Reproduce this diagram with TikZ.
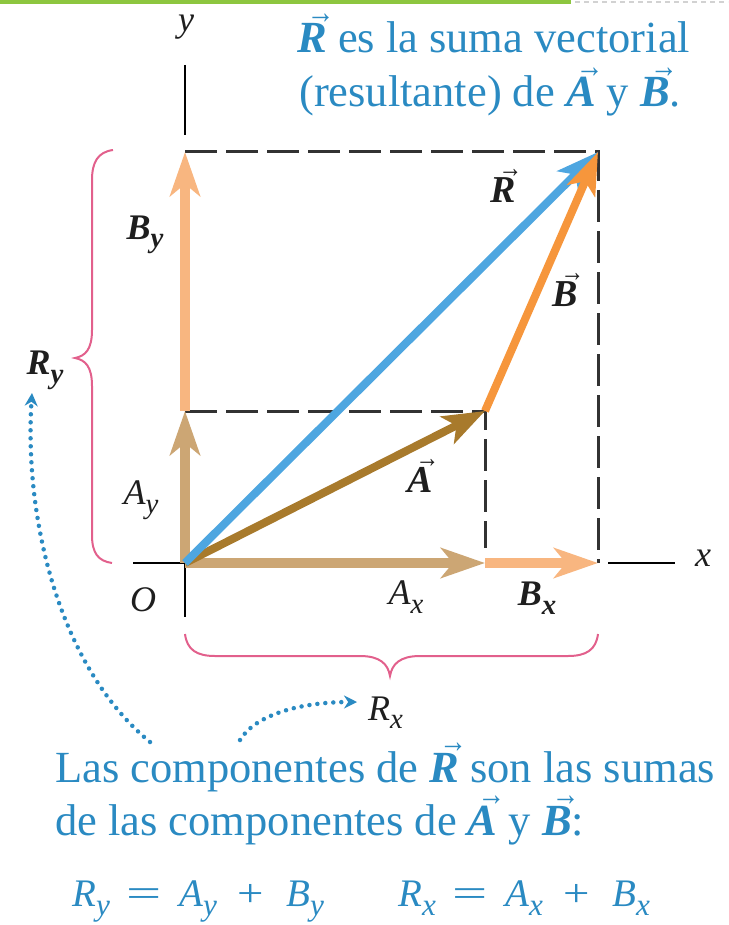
\documentclass[tikz,border=0pt]{standalone}
\usepackage{fontspec}
\setmainfont{Liberation Serif}
\usetikzlibrary{arrows.meta}
\definecolor{txtblue}{RGB}{42,138,194}
\definecolor{rblue}{RGB}{78,166,224}
\definecolor{abrown}{RGB}{168,122,44}
\definecolor{atan}{RGB}{204,166,116}
\definecolor{borange}{RGB}{246,150,60}
\definecolor{blight}{RGB}{248,182,128}
\definecolor{bracepink}{RGB}{226,96,140}
\definecolor{greenbar}{RGB}{141,198,63}
\definecolor{dashgray}{RGB}{50,50,50}
\definecolor{labdark}{RGB}{30,30,30}
\newsavebox\vlbox
\newlength\vlraise
\newcommand\sbs[1]{\raisebox{-0.24em}{\scalebox{0.8}{\itshape #1}}}
\newcommand\vl[1]{{\sbox\vlbox{\bfseries\itshape #1}\setlength\vlraise{\ht\vlbox}\addtolength\vlraise{0.0em}\rlap{\hbox to\wd\vlbox{\hfil\kern0.22em\raisebox{\vlraise}[0pt][0pt]{\scalebox{0.62}[0.75]{\normalfont →}}\hfil}}\usebox\vlbox}}
\begin{document}
\begin{tikzpicture}[x=1pt,y=-1pt,
  txt/.style={inner sep=0pt,anchor=base west,text=txtblue,font=\fontsize{44.5}{52}\selectfont},
  eqn/.style={inner sep=0pt,anchor=base west,text=txtblue,font=\fontsize{39}{39}\selectfont},
  lab/.style={inner sep=0pt,text=labdark,font=\fontsize{36}{36}\selectfont\itshape},
  vlab/.style={inner sep=0pt,text=labdark,font=\fontsize{38}{38}\selectfont},
  axis/.style={draw=black,line width=2.5pt},
  guide/.style={draw=dashgray,line width=3pt,dash pattern=on 32pt off 9pt},
  comp/.style={line width=10pt,-{Stealth[length=44pt,width=30pt,inset=12pt]}},
  vecarrow/.style={line width=8pt,-{Stealth[length=42pt,width=30pt,inset=10pt]}},
  brace/.style={draw=bracepink,line width=2pt},
  dots/.style={draw=txtblue,line width=4.5pt,dash pattern=on 0pt off 8pt,line cap=round,-{Stealth[length=13pt,width=13pt]}},
]
\useasboundingbox (0,0) rectangle (728,925);
% top bar
\fill[greenbar] (0,0) rectangle (571,4);
\draw[gray!35,line width=1.5pt,dash pattern=on 5pt off 4pt] (575,2) -- (728,2);
% coordinates
\coordinate (O) at (185,563);
\coordinate (Atip) at (485,411);
\coordinate (Rtip) at (598,152);
\coordinate (AyTip) at (185,411);
\coordinate (ByTip) at (185,152);
\coordinate (AxTip) at (485,563);
\coordinate (BxTip) at (598,563);
\coordinate (yTop) at (185,65);
\coordinate (yUp) at (185,135);
\coordinate (yDown) at (185,617);
\coordinate (xLeft) at (133,563);
\coordinate (xR1) at (608,563);
\coordinate (xR2) at (675,563);
\coordinate (AxDash) at (485,548);
% axes
\draw[axis] (yTop) -- (yUp);
\draw[axis] (O) -- (yDown);
\draw[axis] (xLeft) -- (O);
\draw[axis] (xR1) -- (xR2);
% guides
\draw[guide] (ByTip) -- (Rtip) -- (BxTip);
\draw[guide] (AyTip) -- (Atip) -- (AxDash);
% component arrows
\draw[comp,draw=atan,color=atan] (O) -- (AyTip);
\draw[comp,draw=blight,color=blight] (AyTip) -- (ByTip);
\draw[comp,draw=atan,color=atan] (O) -- (AxTip);
\draw[comp,draw=blight,color=blight] (AxTip) -- (BxTip);
% vectors
\draw[vecarrow,draw=abrown,color=abrown] (O) -- (Atip);
\draw[vecarrow,draw=rblue,color=rblue] (O) -- (Rtip);
\draw[vecarrow,draw=borange,color=borange] (Atip) -- (Rtip);
% braces
\draw[brace] (113,150) .. controls (98,152) and (92,162) .. (92,180) -- (92,330)
  .. controls (92,350) and (85,356) .. (75,358) .. controls (85,360) and (92,366) .. (92,386)
  -- (92,535) .. controls (92,553) and (98,561) .. (112,563);
\draw[brace] (185,634) .. controls (187,650) and (197,656) .. (215,656) -- (360,656)
  .. controls (380,656) and (388,664) .. (390,676) .. controls (392,664) and (400,656) .. (420,656)
  -- (568,656) .. controls (586,656) and (596,650) .. (598,634);
% labels
\node[lab] (ylab) at (186,27) {y};
\node[lab] (xlab) at (703,558) {x};
\node[lab] (Olab) at (143,600) {O};
\node[lab] (Axlab) at (406,597) {A\sbs{x}};
\node[lab] (Bxlab) at (537,598) {\textbf{B}\sbs{\textbf{x}}};
\node[lab] (Aylab) at (141,500) {A\sbs{y}};
\node[lab] (Bylab) at (145,235) {\textbf{B}\sbs{\textbf{y}}};
\node[lab] (Rylab) at (45,370) {\textbf{R}\sbs{\textbf{y}}};
\node[lab,anchor=base west] (Rxlab) at (368,720) {R\sbs{x}};
\node[vlab] (Rvec) at (503,190) {\vl{R}};
\node[vlab] (Bvec) at (565,294) {\vl{B}};
\node[vlab] (Avec) at (420,480) {\vl{A}};
% dotted arrows
\coordinate (d1s) at (150,742);
\coordinate (d1e) at (32,393);
\coordinate (d2s) at (240,740);
\coordinate (d2e) at (357,702);
\draw[dots] (d1s) .. controls (60,668) and (24,520) .. (d1e);
\draw[dots] (d2s) .. controls (255,715) and (300,702) .. (d2e);
% texts
\node[txt] (t1) at (297,53) {\vl{R} es la suma vectorial};
\node[txt] (t2) at (299,107) {(resultante) de \vl{A} y \vl{B}.};
\node[txt] (b1) at (55,782) {Las componentes de \vl{R} son las sumas};
\node[txt] (b2) at (55,835) {de las componentes de \vl{A} y \vl{B}:};
\node[eqn] (e1) at (72,906) {\textit{R}\sbs{y}\hspace{17pt}\scalebox{1.6}[1]{=}\hspace{17pt}\textit{A}\sbs{y}\hspace{21pt}\scalebox{1.2}[1]{+}\hspace{22pt}\textit{B}\sbs{y}};
\node[eqn] (e2) at (398,906) {\textit{R}\sbs{x}\hspace{17pt}\scalebox{1.6}[1]{=}\hspace{17pt}\textit{A}\sbs{x}\hspace{21pt}\scalebox{1.2}[1]{+}\hspace{22pt}\textit{B}\sbs{x}};
\end{tikzpicture}
\end{document}
